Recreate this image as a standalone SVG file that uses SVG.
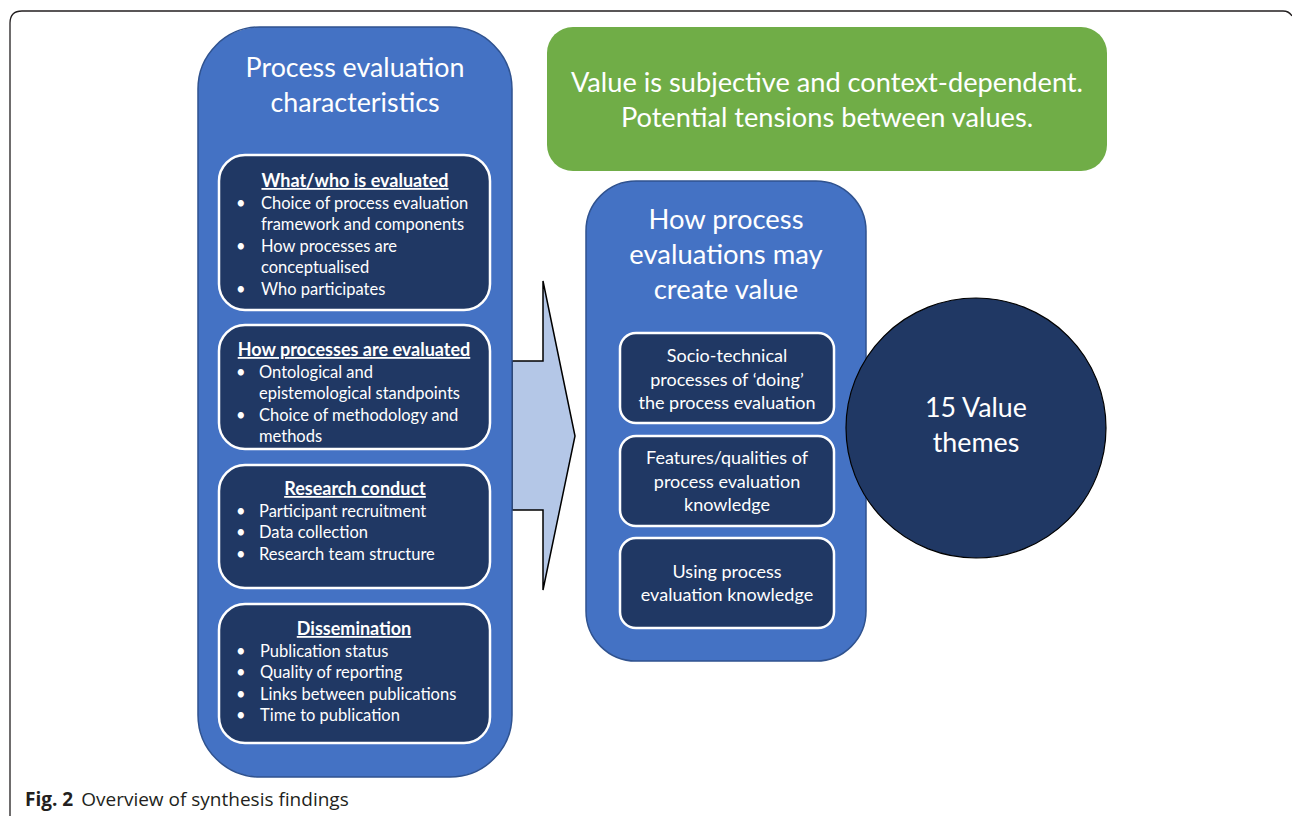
<svg xmlns="http://www.w3.org/2000/svg" width="1292" height="816" viewBox="0 0 1292 816">
<defs>
<style>
.big{fill:#4472C4;stroke:#2F528F;stroke-width:1.5}
.inner{fill:#203864;stroke:#ffffff;stroke-width:2.5}
.t{font-family:Lato,"Open Sans","Liberation Sans",sans-serif;fill:#ffffff}
.title{font-size:26.8px;text-anchor:middle}
.title2{font-size:27.4px;text-anchor:middle}
.head{font-size:18px;font-weight:bold;text-anchor:middle;text-decoration:underline}
.item{font-size:16.5px}
.mid{font-size:18px;text-anchor:middle}
.cap{font-family:"Open Sans","Noto Sans","Liberation Sans",sans-serif;fill:#231f20;font-size:19px}
</style>
</defs>
<rect width="1292" height="816" fill="#ffffff"/>
<path d="M10,816 L10,23 Q10,11 22,11 L1283,11 Q1289,11 1292,16" fill="none" stroke="#231f20" stroke-width="1.3"/>

<g id="connectors">
<polygon points="512,361 543,361 543,281 575,436 543,590 543,510 512,510" fill="#B4C7E7" stroke="#000000" stroke-width="1.5" stroke-linejoin="miter"/>
</g>

<g id="characteristics">
<rect class="big" x="198" y="27" width="314" height="750" rx="62" ry="62"/>
<text class="t title" x="355" y="77">Process evaluation</text>
<text class="t title" x="355" y="112">characteristics</text>
</g>

<g id="what-who">
<rect class="inner" x="219" y="155" width="271" height="155" rx="26" ry="26"/>
<text class="t head" x="355" y="187">What/who is evaluated</text>
<g class="t item">
<text x="236" y="209">•</text><text x="261" y="209">Choice of process evaluation</text>
<text x="261" y="230">framework and components</text>
<text x="236" y="252">•</text><text x="261" y="252">How processes are</text>
<text x="261" y="273">conceptualised</text>
<text x="236" y="295">•</text><text x="261" y="295">Who participates</text>
</g>
</g>

<g id="how-evaluated">
<rect class="inner" x="219" y="325" width="271" height="124" rx="26" ry="26"/>
<text class="t head" x="354" y="356">How processes are evaluated</text>
<g class="t item">
<text x="236" y="378">•</text><text x="259" y="378">Ontological and</text>
<text x="259" y="399">epistemological standpoints</text>
<text x="236" y="421">•</text><text x="259" y="421">Choice of methodology and</text>
<text x="259" y="442">methods</text>
</g>
</g>

<g id="research-conduct">
<rect class="inner" x="219" y="465" width="271" height="123" rx="26" ry="26"/>
<text class="t head" x="355" y="495">Research conduct</text>
<g class="t item">
<text x="236" y="517">•</text><text x="259" y="517">Participant recruitment</text>
<text x="236" y="538">•</text><text x="259" y="538">Data collection</text>
<text x="236" y="560">•</text><text x="259" y="560">Research team structure</text>
</g>
</g>

<g id="dissemination">
<rect class="inner" x="219" y="604" width="271" height="139" rx="26" ry="26"/>
<text class="t head" x="354" y="635">Dissemination</text>
<g class="t item">
<text x="236" y="657">•</text><text x="260" y="657">Publication status</text>
<text x="236" y="678">•</text><text x="260" y="678">Quality of reporting</text>
<text x="236" y="700">•</text><text x="260" y="700">Links between publications</text>
<text x="236" y="721">•</text><text x="260" y="721">Time to publication</text>
</g>
</g>

<g id="value-note">
<rect x="547" y="27" width="560" height="144" rx="26" ry="26" fill="#70AD47"/>
<text class="t" x="827" y="92" font-size="27.2" text-anchor="middle">Value is subjective and context-dependent.</text>
<text class="t" x="827" y="127" font-size="27.2" text-anchor="middle">Potential tensions between values.</text>
</g>

<g id="create-value">
<rect class="big" x="586" y="181" width="280" height="480" rx="50" ry="50"/>
<text class="t title2" x="726" y="229">How process</text>
<text class="t title2" x="726" y="264">evaluations may</text>
<text class="t title2" x="726" y="299">create value</text>
</g>

<g id="socio-technical">
<rect class="inner" x="620" y="333" width="214" height="90" rx="16" ry="16"/>
<text class="t mid" x="727" y="362">Socio-technical</text>
<text class="t mid" x="727" y="386">processes of ‘doing’</text>
<text class="t mid" x="727" y="409">the process evaluation</text>
</g>

<g id="features">
<rect class="inner" x="620" y="436" width="214" height="90" rx="16" ry="16"/>
<text class="t mid" x="727" y="464">Features/qualities of</text>
<text class="t mid" x="727" y="488">process evaluation</text>
<text class="t mid" x="727" y="511">knowledge</text>
</g>

<g id="using">
<rect class="inner" x="620" y="538" width="214" height="90" rx="16" ry="16"/>
<text class="t mid" x="727" y="578">Using process</text>
<text class="t mid" x="727" y="601">evaluation knowledge</text>
</g>

<g id="value-themes">
<circle cx="976" cy="428" r="130" fill="#203864" stroke="#000000" stroke-width="1.2"/>
<text class="t title" x="976" y="417">15 Value</text>
<text class="t title" x="976" y="452">themes</text>
</g>

<text class="cap" x="25" y="806"><tspan font-weight="bold">Fig. 2</tspan><tspan dx="8">Overview of synthesis findings</tspan></text>
</svg>
